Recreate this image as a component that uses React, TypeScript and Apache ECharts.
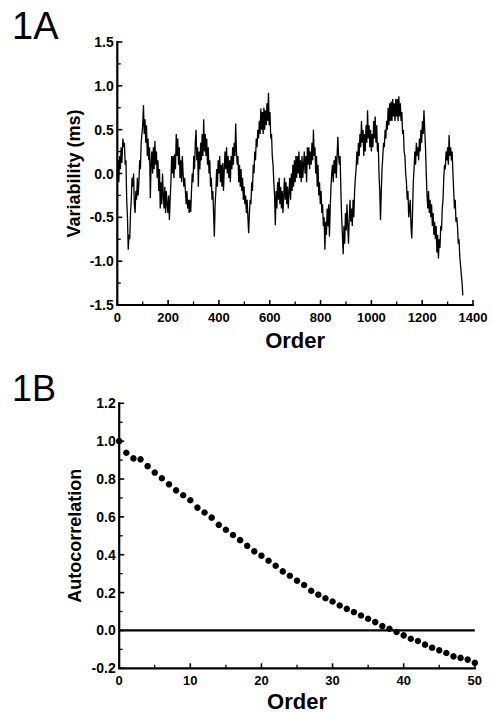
import { useEffect, useRef } from "react";
import * as echarts from "echarts";

// Panel 1A: variability trace, [order, value in ms]
const traceA: [number, number][] = [
  [0, -0.05], [3, 0.15], [6, -0.1], [9, 0.2], [12, 0.05], [15, 0.3], [18, 0.12], [22, 0.4], [25, 0.3], [28, 0.35],
  [31, 0.1], [34, 0.15], [37, -0.3], [40, -0.5], [43, -0.87], [46, -0.7], [49, -0.75], [52, -0.45], [55, -0.3], [58, -0.05],
  [61, -0.15], [64, 0.0], [67, -0.35], [70, -0.45], [73, -0.2], [76, -0.3], [79, -0.05], [82, -0.25], [85, -0.1], [88, 0.15],
  [91, 0.05], [94, 0.35], [97, 0.45], [100, 0.55], [103, 0.78], [106, 0.45], [109, 0.62], [112, 0.35], [115, 0.55], [118, 0.2],
  [121, 0.4], [124, 0.15], [127, 0.3], [130, -0.28], [133, 0.1], [136, 0.25], [139, 0.0], [142, 0.3], [145, 0.05], [148, 0.37],
  [151, 0.1], [154, 0.25], [157, -0.05], [160, 0.15], [163, -0.2], [166, 0.05], [169, -0.4], [172, -0.1], [175, -0.35], [178, 0.0],
  [181, -0.25], [184, -0.4], [187, -0.15], [190, -0.45], [193, -0.2], [196, -0.35], [199, -0.45], [202, -0.25], [205, -0.53], [208, -0.3],
  [211, -0.1], [214, 0.2], [217, 0.0], [220, 0.2], [223, -0.05], [226, 0.22], [229, 0.05], [232, 0.45], [235, 0.2], [238, 0.4],
  [241, 0.1], [244, 0.3], [247, -0.05], [250, 0.15], [253, -0.1], [256, 0.2], [259, 0.0], [262, -0.15], [265, -0.05], [268, -0.2],
  [271, -0.35], [274, -0.2], [277, -0.4], [280, -0.3], [283, -0.45], [286, -0.3], [289, -0.44], [292, -0.2], [295, 0.0], [298, -0.1],
  [301, 0.2], [304, 0.05], [307, 0.35], [310, 0.5], [313, 0.15], [316, 0.3], [319, -0.15], [322, 0.25], [325, 0.05], [328, 0.35],
  [331, 0.15], [334, 0.45], [337, 0.2], [340, 0.62], [343, 0.25], [346, 0.45], [349, 0.2], [352, 0.4], [355, 0.1], [358, 0.3],
  [361, 0.0], [364, 0.15], [367, -0.15], [370, -0.05], [373, -0.3], [376, -0.2], [379, -0.45], [382, -0.72], [385, -0.35], [388, -0.2],
  [391, 0.05], [394, -0.15], [397, 0.15], [400, 0.0], [403, 0.2], [406, -0.1], [409, 0.1], [412, -0.15], [415, 0.12], [418, -0.2],
  [421, 0.05], [424, 0.25], [427, 0.05], [430, 0.3], [433, 0.0], [436, 0.2], [439, -0.05], [442, 0.15], [445, -0.1], [448, 0.2],
  [451, 0.05], [454, 0.3], [457, 0.1], [460, 0.35], [463, 0.2], [466, 0.57], [469, 0.25], [472, 0.1], [475, 0.2], [478, -0.1],
  [481, 0.1], [484, -0.15], [487, 0.05], [490, -0.2], [493, -0.05], [496, -0.3], [499, -0.15], [502, -0.35], [505, -0.25], [508, -0.45],
  [511, -0.3], [514, -0.5], [517, -0.68], [520, -0.45], [523, -0.3], [526, -0.35], [529, -0.1], [532, -0.2], [535, 0.1], [538, 0.0],
  [541, 0.25], [544, 0.15], [547, 0.4], [550, 0.3], [553, 0.5], [556, 0.4], [559, 0.6], [562, 0.45], [565, 0.74], [568, 0.5],
  [571, 0.7], [574, 0.45], [577, 0.75], [580, 0.5], [583, 0.72], [586, 0.55], [589, 0.8], [592, 0.6], [595, 0.92], [598, 0.55],
  [601, 0.7], [604, 0.4], [607, 0.45], [610, 0.2], [613, 0.1], [616, -0.1], [619, -0.25], [622, -0.59], [625, -0.2], [628, -0.4],
  [631, -0.1], [634, -0.3], [637, -0.05], [640, -0.35], [643, -0.15], [646, -0.4], [649, -0.2], [652, -0.45], [655, -0.25], [658, -0.05],
  [661, -0.3], [664, -0.1], [667, -0.35], [670, -0.15], [673, -0.4], [676, -0.2], [679, -0.05], [682, -0.3], [685, 0.0], [688, -0.2],
  [691, 0.1], [694, -0.15], [697, 0.15], [700, -0.1], [703, 0.2], [706, -0.05], [709, 0.2], [712, 0.0], [715, 0.25], [718, -0.05],
  [721, 0.15], [724, -0.1], [727, 0.2], [730, -0.05], [733, 0.1], [736, 0.25], [739, 0.0], [742, 0.2], [745, -0.1], [748, 0.3],
  [751, 0.1], [754, 0.3], [757, 0.05], [760, 0.25], [763, 0.1], [766, 0.35], [769, 0.15], [772, 0.5], [775, 0.2], [778, 0.3],
  [781, 0.0], [784, 0.2], [787, -0.15], [790, 0.1], [793, -0.25], [796, -0.1], [799, -0.35], [802, -0.2], [805, -0.45], [808, -0.35],
  [811, -0.6], [814, -0.5], [817, -0.87], [820, -0.55], [823, -0.7], [826, -0.4], [829, -0.6], [832, -0.35], [835, -0.72], [838, -0.4],
  [841, -0.15], [844, 0.0], [847, 0.1], [850, -0.1], [853, 0.15], [856, 0.0], [859, 0.2], [862, -0.05], [865, 0.2], [868, 0.42],
  [871, 0.2], [874, 0.1], [877, 0.2], [880, -0.2], [883, -0.5], [886, -0.7], [889, -0.92], [892, -0.6], [895, -0.8], [898, -0.45],
  [901, -0.65], [904, -0.35], [907, -0.6], [910, -0.8], [913, -0.5], [916, -0.3], [919, -0.55], [922, -0.4], [925, -0.6], [928, -0.3],
  [931, -0.5], [934, -0.2], [937, -0.05], [940, 0.05], [943, 0.25], [946, 0.1], [949, 0.35], [952, 0.2], [955, 0.45], [958, 0.3],
  [961, 0.6], [964, 0.35], [967, 0.5], [970, 0.2], [973, 0.45], [976, 0.25], [979, 0.55], [982, 0.35], [985, 0.72], [988, 0.4],
  [991, 0.55], [994, 0.3], [997, 0.5], [1000, 0.25], [1003, 0.45], [1006, 0.3], [1009, 0.6], [1012, 0.4], [1015, 0.65], [1018, 0.35],
  [1021, 0.55], [1024, 0.25], [1027, 0.35], [1030, 0.0], [1033, -0.2], [1036, -0.53], [1039, -0.2], [1042, 0.05], [1045, 0.2], [1048, 0.35],
  [1051, 0.3], [1054, 0.5], [1057, 0.4], [1060, 0.6], [1063, 0.5], [1066, 0.75], [1069, 0.55], [1072, 0.8], [1075, 0.6], [1078, 0.82],
  [1081, 0.6], [1084, 0.85], [1087, 0.65], [1090, 0.8], [1093, 0.6], [1096, 0.85], [1099, 0.65], [1102, 0.85], [1105, 0.6], [1108, 0.88],
  [1111, 0.65], [1114, 0.8], [1117, 0.6], [1120, 0.7], [1123, 0.45], [1126, 0.5], [1129, 0.25], [1132, 0.2], [1135, 0.0], [1138, -0.1],
  [1141, -0.3], [1144, -0.2], [1147, -0.5], [1150, -0.4], [1153, -0.3], [1156, -0.6], [1159, -0.74], [1162, -0.45], [1165, -0.1], [1168, 0.05],
  [1171, 0.25], [1174, 0.1], [1177, 0.35], [1180, 0.2], [1183, 0.3], [1186, 0.15], [1189, 0.4], [1192, 0.25], [1195, 0.5], [1198, 0.35],
  [1201, 0.6], [1204, 0.45], [1207, 0.72], [1210, 0.5], [1213, 0.3], [1216, 0.0], [1219, -0.25], [1222, -0.4], [1225, -0.2], [1228, -0.45],
  [1231, -0.3], [1234, -0.5], [1237, -0.35], [1240, -0.6], [1243, -0.45], [1246, -0.7], [1249, -0.55], [1252, -0.75], [1255, -0.6], [1258, -0.9],
  [1261, -0.7], [1264, -0.97], [1267, -0.75], [1270, -0.85], [1273, -0.6], [1276, -0.65], [1279, -0.4], [1282, -0.3], [1285, -0.05], [1288, 0.1],
  [1291, 0.05], [1294, 0.25], [1297, 0.15], [1300, 0.3], [1303, 0.1], [1306, 0.44], [1309, 0.2], [1312, 0.3], [1315, 0.15], [1318, 0.25],
  [1321, 0.0], [1324, -0.2], [1327, -0.4], [1330, -0.3], [1333, -0.55], [1336, -0.5], [1339, -0.6], [1342, -0.8], [1345, -0.75], [1348, -0.95],
  [1351, -1.05], [1354, -1.15], [1357, -1.25], [1360, -1.39],
];

// Panel 1B: autocorrelation by lag
const lagsB = [
  0, 1, 2, 3, 4, 5, 6, 7, 8, 9, 10, 11, 12, 13, 14, 15, 16, 17, 18, 19, 20, 21, 22, 23, 24, 25,
  26, 27, 28, 29, 30, 31, 32, 33, 34, 35, 36, 37, 38, 39, 40, 41, 42, 43, 44, 45, 46, 47, 48, 49, 50,
];
const autocorrB = [
  1.0, 0.939, 0.909, 0.904, 0.868, 0.834, 0.804, 0.772, 0.74, 0.714, 0.688, 0.649, 0.623, 0.596, 0.558, 0.532,
  0.504, 0.477, 0.447, 0.418, 0.395, 0.368, 0.342, 0.312, 0.289, 0.263, 0.24, 0.21, 0.189, 0.17, 0.153, 0.132,
  0.114, 0.097, 0.079, 0.062, 0.044, 0.023, 0.009, -0.008, -0.026, -0.044, -0.056, -0.075, -0.091, -0.105,
  -0.119, -0.137, -0.145, -0.154, -0.171,
];
// Zero reference line in panel 1B
const zeroLineX = [0, 50];
const zeroLineY = [0, 0];

// Ticks and tick labels
const xTicksA = [0, 200, 400, 600, 800, 1000, 1200, 1400];
const xMinorA = [100, 300, 500, 700, 900, 1100, 1300];
const xTickLabelsA = ["0", "200", "400", "600", "800", "1000", "1200", "1400"];
const yTicksA = [-1.5, -1.0, -0.5, 0.0, 0.5, 1.0, 1.5];
const yMinorA = [-1.25, -0.75, -0.25, 0.25, 0.75, 1.25];
const yTickLabelsA = ["-1.5", "-1.0", "-0.5", "0.0", "0.5", "1.0", "1.5"];

const xTicksB = [0, 10, 20, 30, 40, 50];
const xMinorB = [5, 15, 25, 35, 45];
const xTickLabelsB = ["0", "10", "20", "30", "40", "50"];
const yTicksB = [-0.2, 0.0, 0.2, 0.4, 0.6, 0.8, 1.0, 1.2];
const yMinorB = [-0.1, 0.1, 0.3, 0.5, 0.7, 0.9, 1.1];
const yTickLabelsB = ["-0.2", "0.0", "0.2", "0.4", "0.6", "0.8", "1.0", "1.2"];

const panelLabels = ["1A", "1B"];
const xNames = ["Order", "Order"];
const yNames = ["Variability (ms)", "Autocorrelation"];

type Panel = {
  xTicks: number[]; xMinor: number[]; xLabels: string[];
  yTicks: number[]; yMinor: number[]; yLabels: string[];
};
const PANELS: Panel[] = [
  { xTicks: xTicksA, xMinor: xMinorA, xLabels: xTickLabelsA, yTicks: yTicksA, yMinor: yMinorA, yLabels: yTickLabelsA },
  { xTicks: xTicksB, xMinor: xMinorB, xLabels: xTickLabelsB, yTicks: yTicksB, yMinor: yMinorB, yLabels: yTickLabelsB },
];

function frameSeries(p: Panel, i: number): any[] {
  const x0 = p.xTicks[0];
  const x1 = p.xTicks[p.xTicks.length - 1];
  const y0 = p.yTicks[0];
  const y1 = p.yTicks[p.yTicks.length - 1];
  const base = { xAxisIndex: i, yAxisIndex: i, silent: true, animation: false };
  const tickMark = (data: number[][], size: number[], offset: number[]) => ({
    ...base, type: "scatter", data, symbol: "rect", symbolSize: size, symbolOffset: offset,
    itemStyle: { color: "#000", opacity: 1 }, clip: false, z: 6,
  });
  const labelMarks = (data: number[][], labels: string[], position: string, distance: number, fontSize: number) => ({
    ...base, type: "scatter", data, symbol: "circle", symbolSize: 1,
    itemStyle: { color: "rgba(0,0,0,0)", opacity: 1 }, clip: false, z: 6,
    label: {
      show: true, position, distance, color: "#000", fontWeight: "bold", fontSize,
      formatter: (q: any) => labels[q.dataIndex],
    },
  });
  return [
    {
      ...base, type: "line", data: [[x1, y0], [x0, y0], [x0, y1]], symbol: "none", clip: false, z: 5,
      lineStyle: { color: "#000", width: 2.2, cap: "square", join: "miter" },
    },
    tickMark(p.xTicks.map((v) => [v, y0]), [1.6, 5], [0, -2.5]),
    tickMark(p.xMinor.map((v) => [v, y0]), [1.3, 3.5], [0, -1.75]),
    tickMark(p.yTicks.map((v) => [x0, v]), [5, 1.6], [2.5, 0]),
    tickMark(p.yMinor.map((v) => [x0, v]), [3.5, 1.3], [1.75, 0]),
    labelMarks(p.xTicks.map((v) => [v, y0]), p.xLabels, "bottom", 5, 13),
    labelMarks(p.yTicks.map((v) => [x0, v]), p.yLabels, "left", 3, 14),
  ];
}

export default function App() {
  const ref = useRef<HTMLDivElement>(null);

  useEffect(() => {
    if (!ref.current) return;
    const chart = echarts.init(ref.current, null, { renderer: "svg" });
    const hidden = {
      axisLine: { show: false, onZero: false },
      axisTick: { show: false },
      minorTick: { show: false },
      axisLabel: { show: false },
      splitLine: { show: false },
    };
    const xName = { fontWeight: "bold", fontSize: 22, color: "#000" };
    const yName = { fontWeight: "bold", fontSize: 18, color: "#000" };
    const panelStyle = (size: number) => ({ fontWeight: "normal", fontSize: size, color: "#000" });

    chart.setOption({
      animation: false,
      title: [
        { text: panelLabels[0], left: 12, top: 7, padding: 0, textStyle: panelStyle(38) },
        { text: panelLabels[1], left: 12, top: 370, padding: 0, textStyle: panelStyle(36) },
      ],
      grid: [
        { left: 117.3, top: 42, width: 355.7, height: 263 },
        { left: 119.2, top: 403.3, width: 355.6, height: 265 },
      ],
      xAxis: PANELS.map((p, i) => ({
        gridIndex: i, type: "value",
        min: p.xTicks[0], max: p.xTicks[p.xTicks.length - 1], interval: p.xTicks[1] - p.xTicks[0],
        ...hidden,
        name: xNames[i], nameLocation: "middle", nameGap: i === 0 ? 24 : 22, nameTextStyle: xName,
      })),
      yAxis: PANELS.map((p, i) => ({
        gridIndex: i, type: "value",
        min: p.yTicks[0], max: p.yTicks[p.yTicks.length - 1],
        ...hidden,
        name: yNames[i], nameLocation: "middle", nameGap: i === 0 ? 34 : 35, nameTextStyle: yName,
      })),
      series: [
        {
          type: "line", xAxisIndex: 0, yAxisIndex: 0, data: traceA,
          symbol: "none", lineStyle: { color: "#000", width: 1.3 }, z: 3,
        },
        {
          type: "line", xAxisIndex: 1, yAxisIndex: 1,
          data: zeroLineX.map((x, i) => [x, zeroLineY[i]]),
          symbol: "none", lineStyle: { color: "#000", width: 2.2 }, z: 3,
        },
        {
          type: "scatter", xAxisIndex: 1, yAxisIndex: 1,
          data: lagsB.map((l, i) => [l, autocorrB[i]]),
          symbol: "circle", symbolSize: 6.5, itemStyle: { color: "#000", opacity: 1 }, z: 4,
        },
        ...frameSeries(PANELS[0], 0),
        ...frameSeries(PANELS[1], 1),
      ],
    });
    return () => chart.dispose();
  }, []);

  return <div ref={ref} style={{ position: "absolute", left: 0, top: 0, width: 493, height: 714, background: "#fff" }} />;
}
